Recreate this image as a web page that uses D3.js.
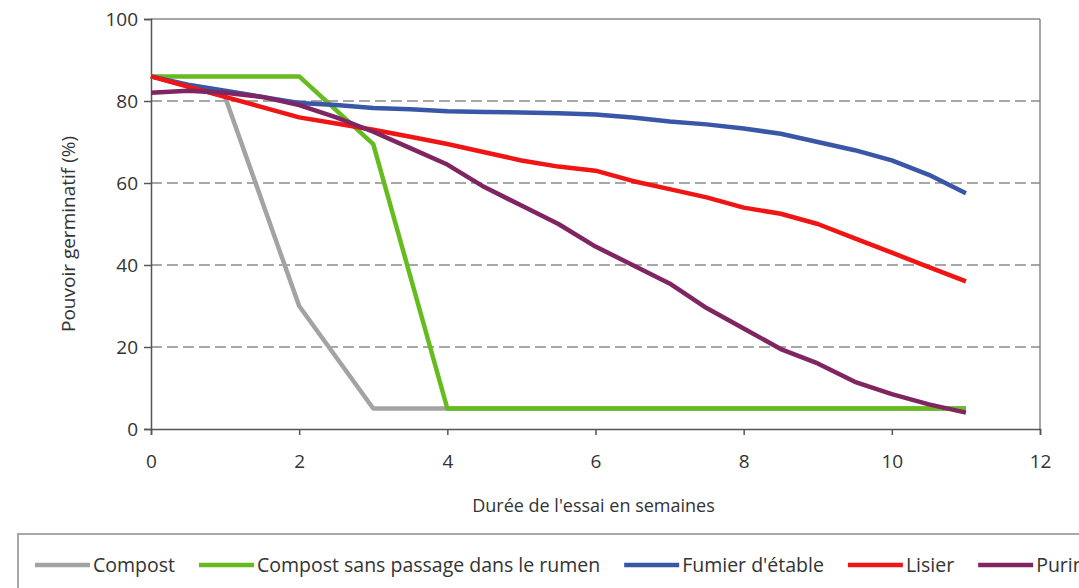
<!DOCTYPE html>
<html lang="fr">
<head>
<meta charset="UTF-8">
<script src="https://d3js.org/d3.v7.min.js"></script>
<style>
  body { margin: 0; background: #fff; }
  svg text { font-family: "Open Sans", "DejaVu Sans", sans-serif; fill: #333; }
</style>
</head>
<body>
<svg id="chart"></svg>
<script>
// semaines entières (compost) et demi-semaines (autres séries)
var semaines = [0, 1, 2, 3, 4, 5, 6, 7, 8, 9, 10, 11];
var compost = [86, 81, 30, 5, 5, 5, 5, 5, 5, 5, 5, 5];
var compostSansRumen = [86, 86, 86, 69.5, 5, 5, 5, 5, 5, 5, 5, 5];

var demiSemaines = [0, 0.5, 1, 1.5, 2, 2.5, 3, 3.5, 4, 4.5, 5, 5.5, 6, 6.5, 7, 7.5, 8, 8.5, 9, 9.5, 10, 10.5, 11];
var fumier = [86, 84, 82.5, 81, 79.5, 79, 78.3, 78, 77.5, 77.3, 77.2, 77, 76.7, 76, 75, 74.3, 73.3, 72, 70, 68, 65.5, 62, 57.5];
var lisier = [86, 83.5, 81, 78.5, 76, 74.5, 73, 71.3, 69.5, 67.5, 65.5, 64, 63, 60.5, 58.5, 56.5, 54, 52.5, 50, 46.5, 43, 39.5, 36];
var purin = [82, 82.5, 82, 81, 79, 76, 72.5, 68.5, 64.5, 59, 54.5, 50, 44.5, 40, 35.5, 29.5, 24.5, 19.5, 16, 11.5, 8.5, 6, 4];

var xTicks = [0, 2, 4, 6, 8, 10, 12];
var yTicks = [0, 20, 40, 60, 80, 100];

var series = [
  {name: "Compost", x: semaines, y: compost, color: "#a3a3a3"},
  {name: "Compost sans passage dans le rumen", x: semaines, y: compostSansRumen, color: "#66bb1e"},
  {name: "Fumier d'étable", x: demiSemaines, y: fumier, color: "#3a57a7"},
  {name: "Lisier", x: demiSemaines, y: lisier, color: "#f01414"},
  {name: "Purin", x: demiSemaines, y: purin, color: "#7f2561"}
];

var W = 1079, H = 588;
var svg = d3.select("#chart").attr("width", W).attr("height", H);

var x = d3.scaleLinear().domain([0, 12]).range([151, 1040]);
var y = d3.scaleLinear().domain([0, 100]).range([429, 19]);

// grille pointillée
svg.append("g").selectAll("line")
  .data(yTicks.filter(function(d) { return d > 0 && d < 100; }))
  .enter().append("line")
  .attr("x1", x(0)).attr("x2", x(12))
  .attr("y1", function(d) { return y(d); })
  .attr("y2", function(d) { return y(d); })
  .attr("stroke", "#8a8a8a")
  .attr("stroke-width", 1.5)
  .attr("stroke-dasharray", "11,5");

// cadre haut et droite
svg.append("line").attr("x1", x(0)).attr("x2", x(12)).attr("y1", y(100)).attr("y2", y(100))
  .attr("stroke", "#888").attr("stroke-width", 1.5);
svg.append("line").attr("x1", x(12)).attr("x2", x(12)).attr("y1", y(100)).attr("y2", y(0))
  .attr("stroke", "#888").attr("stroke-width", 1.5);

// axes
var xAxis = svg.append("g")
  .attr("transform", "translate(0," + y(0) + ")")
  .call(d3.axisBottom(x).tickValues(xTicks).tickSize(6).tickPadding(20));
var yAxis = svg.append("g")
  .attr("transform", "translate(" + x(0) + ",0)")
  .call(d3.axisLeft(y).tickValues(yTicks).tickSize(7).tickPadding(6));

[xAxis, yAxis].forEach(function(ax) {
  ax.select(".domain").attr("stroke", "#555").attr("stroke-width", 1.5);
  ax.selectAll(".tick line").attr("stroke", "#555").attr("stroke-width", 1.5);
  ax.selectAll(".tick text").attr("font-size", 19).attr("fill", "#333")
    .style("font-family", '"Open Sans", "DejaVu Sans", sans-serif');
});

// courbes
var line = d3.line()
  .x(function(d) { return x(d[0]); })
  .y(function(d) { return y(d[1]); });

series.forEach(function(s) {
  var pts = s.x.map(function(v, i) { return [v, s.y[i]]; });
  svg.append("path")
    .datum(pts)
    .attr("d", line)
    .attr("fill", "none")
    .attr("stroke", s.color)
    .attr("stroke-width", 4.5)
    .attr("stroke-linejoin", "round");
});

// titres des axes
svg.append("text")
  .attr("x", x(6) - 2).attr("y", 512)
  .attr("text-anchor", "middle")
  .attr("font-size", 18)
  .text("Durée de l'essai en semaines");

svg.append("text")
  .attr("transform", "translate(75,234) rotate(-90)")
  .attr("text-anchor", "middle")
  .attr("font-size", 19)
  .text("Pouvoir germinatif (%)");

// légende
svg.append("rect")
  .attr("x", 18).attr("y", 534)
  .attr("width", 1100).attr("height", 80)
  .attr("fill", "#fff")
  .attr("stroke", "#a8a8a8")
  .attr("stroke-width", 2);

var lx = 35;
series.forEach(function(s) {
  svg.append("line")
    .attr("x1", lx).attr("x2", lx + 55)
    .attr("y1", 565).attr("y2", 565)
    .attr("stroke", s.color).attr("stroke-width", 4.5);
  var t = svg.append("text")
    .attr("x", lx + 58).attr("y", 572)
    .attr("font-size", 19.5)
    .text(s.name);
  lx += 58 + t.node().getComputedTextLength() + 24;
});
</script>
</body>
</html>
